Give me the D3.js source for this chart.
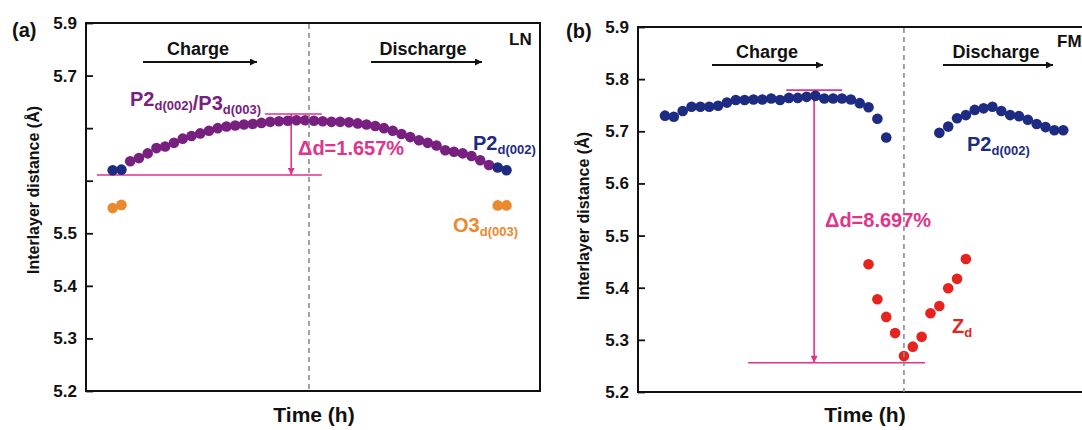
<!DOCTYPE html>
<html>
<head>
<meta charset="utf-8">
<script src="https://cdn.jsdelivr.net/npm/d3@7"></script>
<style>
  body { margin: 0; background: #fff; }
  svg { display: block; font-family: "Liberation Sans", Arial, sans-serif; font-weight: bold; }
</style>
</head>
<body>
<svg id="chart"></svg>
<script>
// ---- LN sample, panel (a) ----
let lnBlueStartTime = [0, 1];
let lnBlueStart = [5.620, 5.621];

let lnPurpleTime = [2, 3, 4, 5, 6, 7, 8, 9, 10, 11, 12, 13, 14, 15, 16, 17, 18, 19, 20, 21, 22,
  23, 24, 25, 26, 27, 28, 29, 30, 31, 32, 33, 34, 35, 36, 37, 38, 39, 40, 41, 42, 43];
let lnPurple = [5.637, 5.643, 5.652, 5.662, 5.665, 5.672, 5.680, 5.685, 5.690, 5.695, 5.700,
  5.703, 5.705, 5.707, 5.708, 5.710, 5.712, 5.713, 5.714, 5.715, 5.715, 5.714, 5.713, 5.712,
  5.712, 5.711, 5.709, 5.707, 5.704, 5.700, 5.695, 5.689, 5.683, 5.677, 5.672, 5.667, 5.658,
  5.655, 5.652, 5.647, 5.639, 5.630];

let lnBlueEndTime = [44, 45];
let lnBlueEnd = [5.625, 5.620];

let lnOrangeTime = [0, 1, 44, 45];
let lnOrange = [5.548, 5.554, 5.553, 5.553];

let lnTicks = [5.2, 5.3, 5.4, 5.5, 5.6, 5.7, 5.8, 5.9];
let lnTickLabels = ["5.2", "5.3", "5.4", "5.5", "", "", "5.7", "5.9"];

// delta-d bracket: [time from, time to, value]
let lnDeltaTop = [17.4, 23.9, 5.727];
let lnDeltaBottom = [-1.8, 23.9, 5.611];
let lnDeltaTime = 20.4;
let lnSwitchTime = 22.43;

// ---- FM sample, panel (b) ----
let fmChargeTime = [0, 1, 2, 3, 4, 5, 6, 7, 8, 9, 10, 11, 12, 13, 14, 15, 16, 17, 18, 19, 20,
  21, 22, 23, 24, 25];
let fmCharge = [5.730, 5.728, 5.739, 5.747, 5.747, 5.747, 5.749, 5.755, 5.760, 5.760, 5.761,
  5.761, 5.763, 5.760, 5.764, 5.764, 5.766, 5.768, 5.763, 5.763, 5.763, 5.761, 5.754, 5.746,
  5.724, 5.688];

let fmDischargeTime = [31, 32, 33, 34, 35, 36, 37, 38, 39, 40, 41, 42, 43, 44, 45];
let fmDischarge = [5.697, 5.709, 5.725, 5.731, 5.741, 5.744, 5.747, 5.739, 5.731, 5.729,
  5.722, 5.714, 5.708, 5.702, 5.702];

let fmZTime = [23, 24, 25, 26, 27, 28, 29, 30, 31, 32, 33, 34];
let fmZ = [5.445, 5.378, 5.344, 5.313, 5.269, 5.287, 5.306, 5.351, 5.365, 5.399, 5.417, 5.455];

let fmTicks = [5.2, 5.3, 5.4, 5.5, 5.6, 5.7, 5.8, 5.9];
let fmTickLabels = ["5.2", "5.3", "5.4", "5.5", "5.6", "5.7", "5.8", "5.9"];

let fmDeltaTop = [13.7, 20.0, 5.779];
let fmDeltaBottom = [9.4, 29.4, 5.256];
let fmDeltaTime = 16.85;
let fmSwitchTime = 27.0;

// colours
let navy = "#1d2c82";
let purple = "#782080";
let orange = "#ea892d";
let red = "#e6231f";
let pink = "#e0338b";
let dashGrey = "#8c8c8c";

let width = 1082;
let height = 430;
let radius = 5.3;

let svg = d3.select("#chart").attr("width", width).attr("height", height);

let defs = svg.append("defs");
defs
  .append("marker")
  .attr("id", "arrow-black")
  .attr("viewBox", "0 0 10 10")
  .attr("refX", 10)
  .attr("refY", 5)
  .attr("markerUnits", "userSpaceOnUse")
  .attr("markerWidth", 11)
  .attr("markerHeight", 7)
  .attr("orient", "auto")
  .append("path")
  .attr("d", "M0,0 L10,5 L0,10 Z")
  .attr("fill", "#111");
defs
  .append("marker")
  .attr("id", "arrow-pink")
  .attr("viewBox", "0 0 10 10")
  .attr("refX", 10)
  .attr("refY", 5)
  .attr("markerUnits", "userSpaceOnUse")
  .attr("markerWidth", 11)
  .attr("markerHeight", 7)
  .attr("orient", "auto")
  .append("path")
  .attr("d", "M0,0 L10,5 L0,10 Z")
  .attr("fill", pink);

let makePanel = (left, top, w, h, xDomain, ticks, tickLabels) => {
  let g = svg.append("g").attr("transform", "translate(" + left + "," + top + ")");
  let xScale = d3.scaleLinear().domain(xDomain).range([0, w]);
  let yScale = d3.scaleLinear().domain([5.2, 5.9]).range([h, 0]);

  let yAxis = d3
    .axisLeft(yScale)
    .tickValues(ticks)
    .tickFormat((d, i) => tickLabels[i])
    .tickSizeInner(-7)
    .tickSizeOuter(0)
    .tickPadding(9);

  let axisG = g.append("g").call(yAxis);
  axisG.select(".domain").remove();
  axisG.selectAll(".tick line").attr("stroke", "#111").attr("stroke-width", 1.8);
  axisG
    .selectAll(".tick text")
    .attr("fill", "#111")
    .style("font-size", "17px")
    .style("font-weight", "bold")
    .style("font-family", "'Liberation Sans', Arial, sans-serif");

  g.append("rect")
    .attr("x", 0)
    .attr("y", 0)
    .attr("width", w)
    .attr("height", h)
    .attr("fill", "none")
    .attr("stroke", "#111")
    .attr("stroke-width", 2);

  return { g: g, x: xScale, y: yScale, w: w, h: h };
};

let drawPoints = (panel, times, values, color) => {
  panel.g
    .append("g")
    .selectAll("circle")
    .data(d3.zip(times, values))
    .enter()
    .append("circle")
    .attr("cx", (d) => panel.x(d[0]))
    .attr("cy", (d) => panel.y(d[1]))
    .attr("r", radius)
    .attr("fill", color);
};

let drawSwitch = (panel, t) => {
  panel.g
    .append("line")
    .attr("x1", panel.x(t))
    .attr("x2", panel.x(t))
    .attr("y1", 1)
    .attr("y2", panel.h)
    .attr("stroke", dashGrey)
    .attr("stroke-width", 1.6)
    .attr("stroke-dasharray", "5,4");
};

let drawDelta = (panel, topLine, bottomLine, t) => {
  let hLine = (d) => {
    panel.g
      .append("line")
      .attr("x1", panel.x(d[0]))
      .attr("x2", panel.x(d[1]))
      .attr("y1", panel.y(d[2]))
      .attr("y2", panel.y(d[2]))
      .attr("stroke", pink)
      .attr("stroke-width", 1.6);
  };
  hLine(topLine);
  hLine(bottomLine);
  panel.g
    .append("line")
    .attr("x1", panel.x(t))
    .attr("x2", panel.x(t))
    .attr("y1", panel.y(topLine[2]) + 10)
    .attr("y2", panel.y(bottomLine[2]))
    .attr("stroke", pink)
    .attr("stroke-width", 1.6)
    .attr("marker-end", "url(#arrow-pink)");
  panel.g
    .append("line")
    .attr("x1", panel.x(t))
    .attr("x2", panel.x(t))
    .attr("y1", panel.y(topLine[2]) + 12)
    .attr("y2", panel.y(topLine[2]))
    .attr("stroke", pink)
    .attr("stroke-width", 1.6)
    .attr("marker-end", "url(#arrow-pink)");
};

let drawArrow = (x1, x2, y) => {
  svg
    .append("line")
    .attr("x1", x1)
    .attr("x2", x2)
    .attr("y1", y)
    .attr("y2", y)
    .attr("stroke", "#111")
    .attr("stroke-width", 1.8)
    .attr("marker-end", "url(#arrow-black)");
};

let addText = (x, y, txt, size, color, anchor) => {
  return svg
    .append("text")
    .attr("x", x)
    .attr("y", y)
    .attr("fill", color || "#111")
    .attr("text-anchor", anchor || "start")
    .style("font-size", size + "px")
    .text(txt);
};

// phase label with subscript parts: [[main, sub], ...]
let addPhase = (x, y, parts, color) => {
  let t = svg
    .append("text")
    .attr("x", x)
    .attr("y", y)
    .attr("fill", color)
    .style("font-size", "20px");
  parts.forEach((p) => {
    t.append("tspan").text(p[0]).attr("dy", 0);
    if (p[1]) {
      t.append("tspan").text(p[1]).style("font-size", "13px").attr("dy", 4);
      t.append("tspan").text("").attr("dy", -4);
    }
  });
};

let addYTitle = (cx, cy) => {
  svg
    .append("text")
    .attr("transform", "translate(" + cx + "," + cy + ") rotate(-90)")
    .attr("text-anchor", "middle")
    .attr("dy", "0.35em")
    .attr("fill", "#111")
    .style("font-size", "16px")
    .text("Interlayer distance (Å)");
};

// ---- panel (a) ----
let pa = makePanel(86, 23, 454, 368, [-3.05, 48.83], lnTicks, lnTickLabels);
drawDelta(pa, lnDeltaTop, lnDeltaBottom, lnDeltaTime);
drawPoints(pa, lnOrangeTime, lnOrange, orange);
drawPoints(pa, lnPurpleTime, lnPurple, purple);
drawPoints(pa, lnBlueStartTime, lnBlueStart, navy);
drawPoints(pa, lnBlueEndTime, lnBlueEnd, navy);
drawSwitch(pa, lnSwitchTime);

addText(12, 37, "(a)", 20);
addText(509, 45, "LN", 17);
addText(198, 55, "Charge", 18, "#111", "middle");
drawArrow(143, 257, 62);
addText(423, 55, "Discharge", 18, "#111", "middle");
drawArrow(371, 482, 62);
addPhase(130, 106, [["P2", "d(002)"], ["/P3", "d(003)"]], purple);
addPhase(473, 150, [["P2", "d(002)"]], navy);
addPhase(453, 232, [["O3", "d(003)"]], orange);
addText(298, 155, "Δd=1.657%", 20, pink);
addYTitle(33, 190);
addText(314, 422, "Time (h)", 21, "#111", "middle");

// ---- panel (b) ----
let pb = makePanel(638, 27, 454, 365, [-3.05, 48.25], fmTicks, fmTickLabels);
drawDelta(pb, fmDeltaTop, fmDeltaBottom, fmDeltaTime);
drawPoints(pb, fmChargeTime, fmCharge, navy);
drawPoints(pb, fmDischargeTime, fmDischarge, navy);
drawPoints(pb, fmZTime, fmZ, red);
drawSwitch(pb, fmSwitchTime);

addText(566, 38, "(b)", 20);
addText(1057, 47, "FM", 17);
addText(767, 58, "Charge", 18, "#111", "middle");
drawArrow(712, 823, 65);
addText(996, 58, "Discharge", 18, "#111", "middle");
drawArrow(943, 1053, 65);
addPhase(967, 151, [["P2", "d(002)"]], navy);
addPhase(952, 333, [["Z", "d"]], red);
addText(825, 227, "Δd=8.697%", 20, pink);
addYTitle(583, 216);
addText(865, 422, "Time (h)", 21, "#111", "middle");
</script>
</body>
</html>
